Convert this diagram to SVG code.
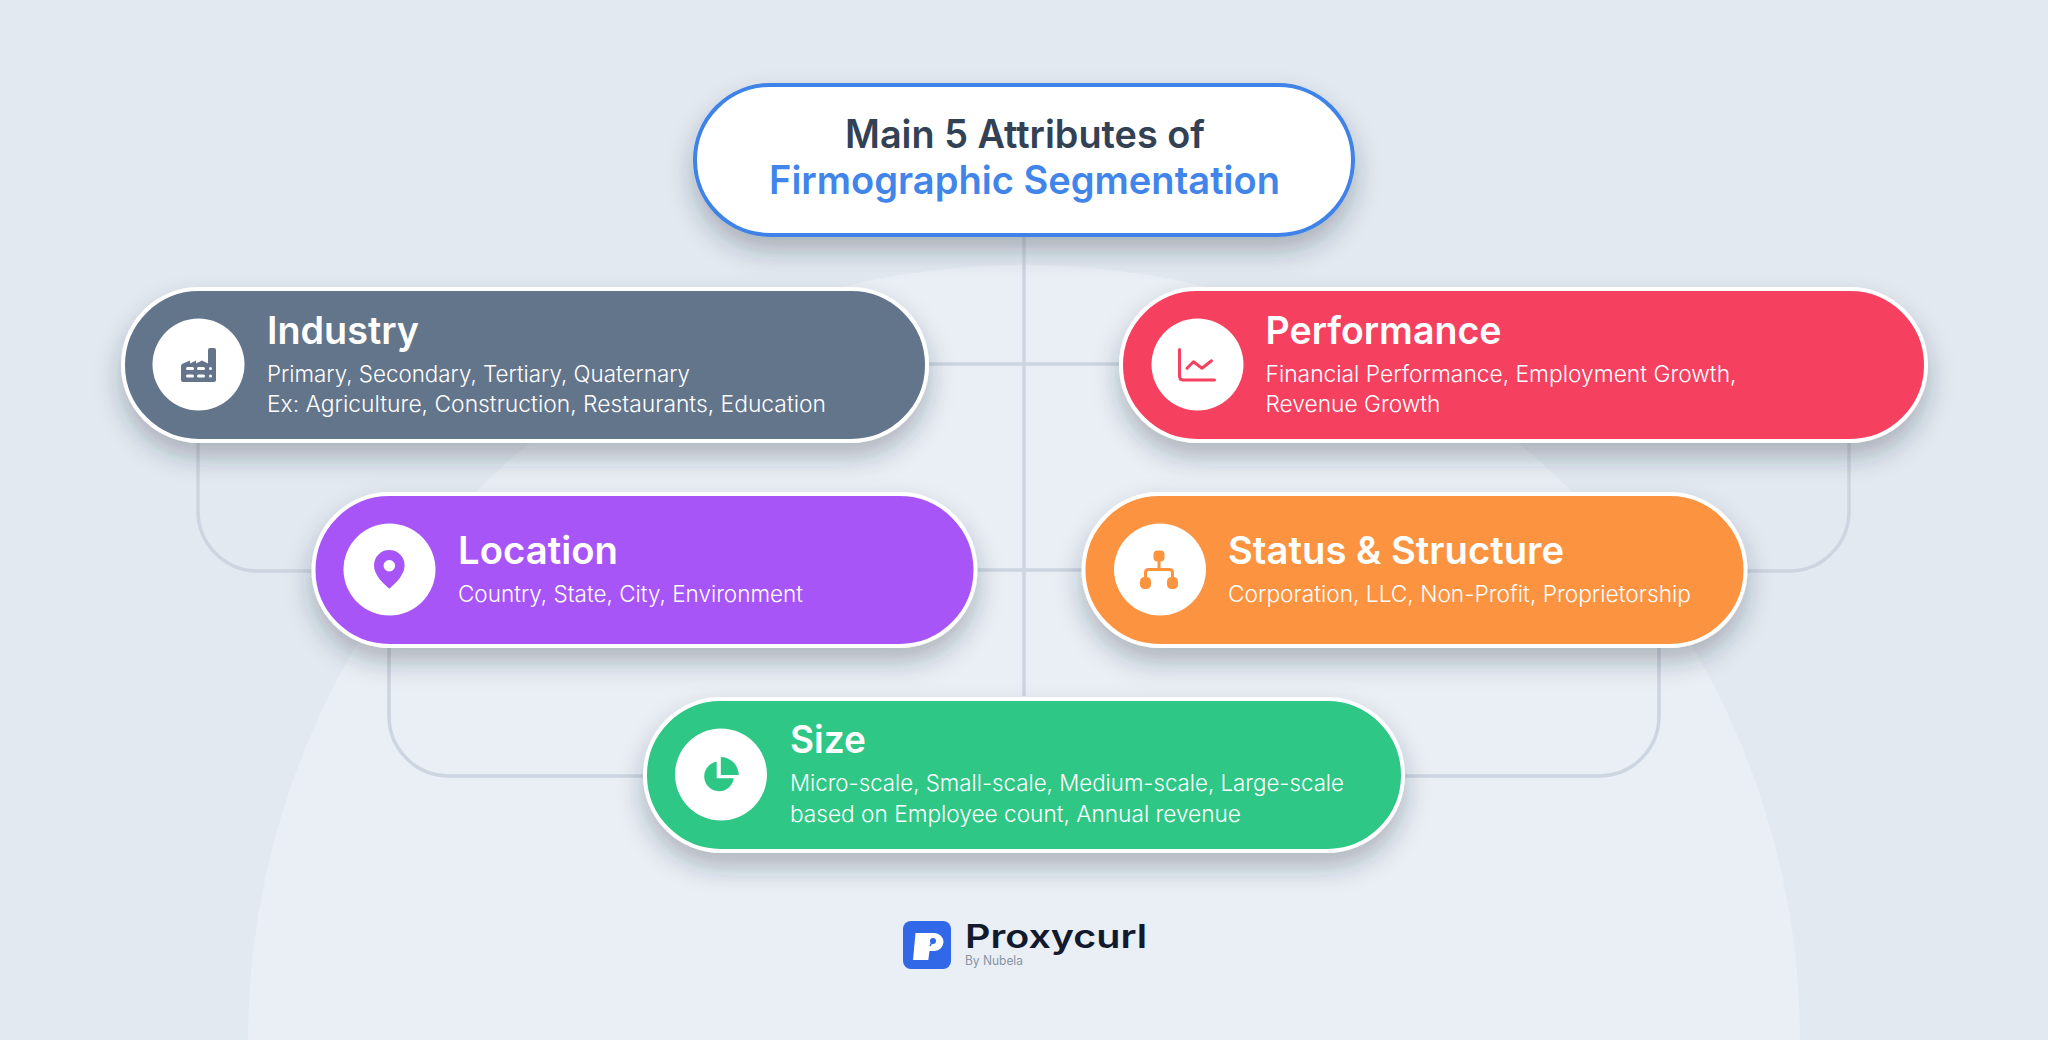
<svg xmlns="http://www.w3.org/2000/svg" width="2048" height="1040" viewBox="0 0 2048 1040">
<defs>
<filter id="sh" x="-15%" y="-30%" width="130%" height="180%"><feDropShadow dx="0" dy="14" stdDeviation="13" flood-color="#1e293b" flood-opacity="0.3"/></filter>
</defs>
<style>
.pill{stroke:#fff;stroke-width:4;filter:url(#sh)}
.ico{fill:#fff}
.t{font-family:"Inter","Liberation Sans",sans-serif;font-size:38px;font-weight:600;fill:#fff}
.s{font-family:"Inter","Liberation Sans",sans-serif;font-size:22.5px;font-weight:300;fill:#fff}
.h{font-family:"Inter","Liberation Sans",sans-serif;font-size:39px;font-weight:600;text-anchor:start}
.c{fill:none;stroke:#cdd5e0;stroke-width:3.5}
</style>
<rect width="2048" height="1040" fill="#e3e9f1"/>
<circle cx="1024" cy="1041" r="776" fill="#eaeff6"/>
<g id="connectors">
<path class="c" d="M1024 236V696"/>
<path class="c" d="M928 364H1119"/>
<path class="c" d="M976 570H1082"/>
<path class="c" d="M198 443V511a60 60 0 0 0 60 60H312"/>
<path class="c" d="M1849 443V511a60 60 0 0 1 -60 60H1746"/>
<path class="c" d="M389 648V716a60 60 0 0 0 60 60H643"/>
<path class="c" d="M1659 648V716a60 60 0 0 1 -60 60H1404"/>
</g>
<g id="main">
<rect x="695" y="85" width="658" height="150" rx="75" fill="#fff" stroke="#3f83e8" stroke-width="4" filter="url(#sh)"/>
<text class="h" x="845" y="148" fill="#334155" textLength="360" lengthAdjust="spacingAndGlyphs">Main 5 Attributes of</text>
<text class="h" x="769" y="194" fill="#4285ea" textLength="511" lengthAdjust="spacingAndGlyphs">Firmographic Segmentation</text>
</g>
<g id="industry">
<rect class="pill" x="123" y="289" width="804" height="152" rx="76" fill="#64748b"/>
<circle class="ico" cx="198.500" cy="364.500" r="46"/>
<path fill="#64748b" d="M181 366q0-2 2-2.500l7-3v3l6-3v3l6-3 6 3V350q0-2 2-2h4q2 0 2 2v30q0 2-2 2H183q-2 0-2-2Z"/>
<g fill="#fff"><rect x="186" y="367" width="8" height="3" rx="1.500"/><rect x="197" y="367" width="8" height="3" rx="1.500"/><rect x="209" y="367" width="3" height="3" rx="1.500"/><rect x="186" y="374.500" width="8" height="3" rx="1.500"/><rect x="197" y="374.500" width="8" height="3" rx="1.500"/><rect x="209" y="374.500" width="3" height="3" rx="1.500"/></g>
<text class="t" x="267" y="344" textLength="152" lengthAdjust="spacingAndGlyphs">Industry</text>
<text class="s" x="267" y="382" textLength="423" lengthAdjust="spacingAndGlyphs">Primary, Secondary, Tertiary, Quaternary</text>
<text class="s" x="267" y="412" textLength="559" lengthAdjust="spacingAndGlyphs">Ex: Agriculture, Construction, Restaurants, Education</text>
</g>
<g id="performance">
<rect class="pill" x="1121" y="289" width="805" height="152" rx="76" fill="#f5405f"/>
<circle class="ico" cx="1197.500" cy="364.500" r="46"/>
<path fill="none" stroke="#f5405f" stroke-width="3" stroke-linecap="round" stroke-linejoin="round" d="M1179.500 349.500V376q0 4 4 4H1214.500M1187 368.300l6.500-6.500 8.500 6.500 9.500-7.500"/>
<text class="t" x="1265.500" y="344" textLength="236" lengthAdjust="spacingAndGlyphs">Performance</text>
<text class="s" x="1265.500" y="382" textLength="471" lengthAdjust="spacingAndGlyphs">Financial Performance, Employment Growth,</text>
<text class="s" x="1265.500" y="412" textLength="175" lengthAdjust="spacingAndGlyphs">Revenue Growth</text>
</g>
<g id="location">
<rect class="pill" x="313.500" y="494" width="662" height="152" rx="76" fill="#a855f7"/>
<circle class="ico" cx="389.500" cy="569.500" r="46"/>
<path fill="#a855f7" fill-rule="evenodd" d="M389.300 550a15.300 15.300 0 0 1 15.300 15.300c0 10-9 18-15.300 23.400-6.300-5.400-15.300-13.400-15.300-23.400a15.300 15.300 0 0 1 15.300-15.300ZM389.300 560a5.700 5.700 0 1 0 .01 0Z"/>
<text class="t" x="458" y="564" textLength="160" lengthAdjust="spacingAndGlyphs">Location</text>
<text class="s" x="458" y="602" textLength="345" lengthAdjust="spacingAndGlyphs">Country, State, City, Environment</text>
</g>
<g id="status">
<rect class="pill" x="1083.500" y="494" width="662" height="152" rx="76" fill="#fc933f"/>
<circle class="ico" cx="1160" cy="569.500" r="46"/>
<g fill="#fc933f"><rect x="1153.500" y="550.500" width="11" height="11" rx="4"/><rect x="1140" y="577" width="11" height="12" rx="4.500"/><rect x="1167" y="577" width="11" height="12" rx="4.500"/></g>
<path fill="none" stroke="#fc933f" stroke-width="3" d="M1159 560V569.500M1145.500 578V572.500q0-3 3-3H1169.500q3 0 3 3V578"/>
<text class="t" x="1228" y="564" textLength="336" lengthAdjust="spacingAndGlyphs">Status &amp; Structure</text>
<text class="s" x="1228" y="602" textLength="463" lengthAdjust="spacingAndGlyphs">Corporation, LLC, Non-Profit, Proprietorship</text>
</g>
<g id="size">
<rect class="pill" x="645" y="699" width="758" height="152" rx="76" fill="#2dc785"/>
<circle class="ico" cx="721" cy="774.500" r="46"/>
<g fill="#2dc785"><path d="M716.700 761.800A14.800 14.800 0 1 0 733.700 778.300H716.700Z"/><path d="M720.800 757A18 18 0 0 1 738.700 775H720.800Z"/></g>
<text class="t" x="790" y="753" textLength="76" lengthAdjust="spacingAndGlyphs">Size</text>
<text class="s" x="790" y="791" textLength="554" lengthAdjust="spacingAndGlyphs">Micro-scale, Small-scale, Medium-scale, Large-scale</text>
<text class="s" x="790" y="822" textLength="451" lengthAdjust="spacingAndGlyphs">based on Employee count, Annual revenue</text>
</g>
<g id="logo">
<rect x="903" y="921" width="48" height="48" rx="8" fill="#3068e8"/>
<path fill="#fff" d="M915.500 933H934.500a9 9 0 0 1 0 18H929.500L928.300 960H913Z"/>
<path fill="none" stroke="#3068e8" stroke-width="1.500" d="M932.500 941L930 946"/>
<circle cx="933" cy="941" r="3" fill="#3068e8"/>
<text x="965" y="948" font-family="Inter,'Liberation Sans',sans-serif" font-size="32" font-weight="600" fill="#131a2e" textLength="182" lengthAdjust="spacingAndGlyphs">Proxycurl</text>
<text x="965" y="965" font-family="Inter,'Liberation Sans',sans-serif" font-size="12.500" fill="#8a93a3" textLength="58" lengthAdjust="spacingAndGlyphs">By Nubela</text>
</g>
</svg>
